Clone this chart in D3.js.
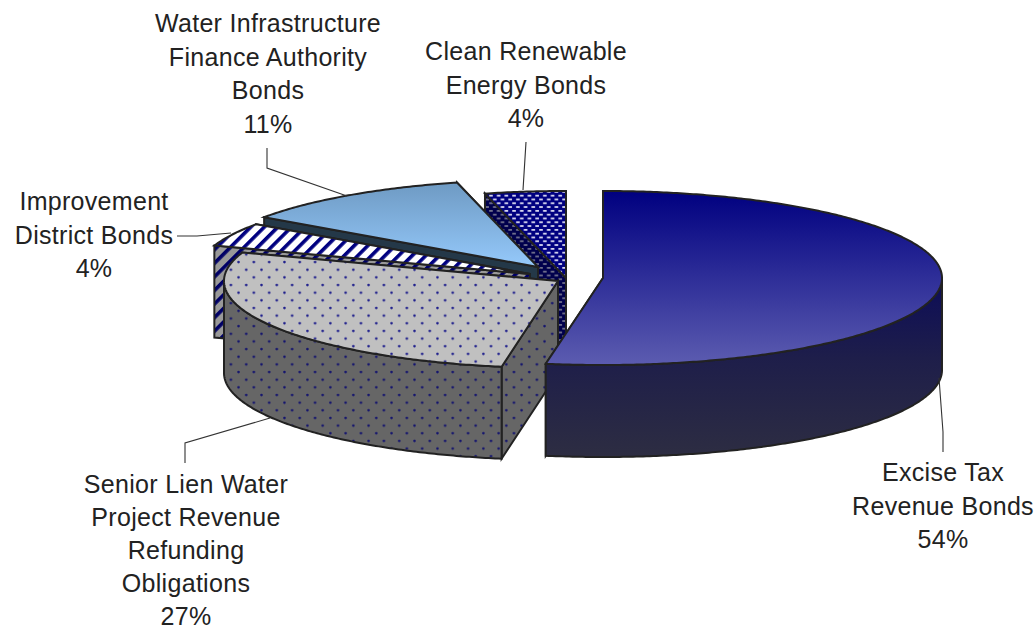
<!DOCTYPE html>
<html>
<head>
<meta charset="utf-8">
<script src="https://cdn.jsdelivr.net/npm/d3@7"></script>
<style>
html,body{margin:0;padding:0;background:#fff;}
svg{display:block;}
text{font-family:"Liberation Sans",Arial,sans-serif;font-size:25px;letter-spacing:0.3px;fill:#222;text-anchor:middle;}
</style>
</head>
<body>
<svg id="chart" width="1035" height="631"></svg>
<script>
// ---- data ----
const categories = [
  "Excise Tax Revenue Bonds",
  "Senior Lien Water Project Revenue Refunding Obligations",
  "Improvement District Bonds",
  "Water Infrastructure Finance Authority Bonds",
  "Clean Renewable Energy Bonds"
];
const drawnShares = [52.7, 27.6, 4.4, 11.4, 3.9];   // slice sweep
const percentLabels = ["54%", "27%", "4%", "11%", "4%"];
const labelLines = [
  ["Excise Tax", "Revenue Bonds"],
  ["Senior Lien Water", "Project Revenue", "Refunding", "Obligations"],
  ["Improvement", "District Bonds"],
  ["Water Infrastructure", "Finance Authority", "Bonds"],
  ["Clean Renewable", "Energy Bonds"]
];

// ---- layout ----
const sliceLayout = [
  {cx:603, cy:278, rx:339, ry:87, top:"url(#exciseTop)", wall:"url(#exciseWall)", face:"#1a1a48"},
  {cx:558, cy:281, rx:334, ry:87, top:"url(#seniorTop)", wall:"url(#seniorWall)", face:"url(#seniorWall)"},
  {cx:530, cy:274, rx:334, ry:87, top:"url(#improveTop)", wall:"url(#improveWall)", face:"url(#improveWall)"},
  {cx:538, cy:267, rx:334, ry:87, top:"url(#waterTop)", wall:"#243848", face:"#243848"},
  {cx:566, cy:278, rx:334, ry:87, top:"url(#cleanTop)", wall:"url(#cleanWall)", face:"url(#cleanWall)"}
];
const depth = 92;
const labelLayout = [
  {x:943, y:481, step:33.7, leader:[[943,452],[943,432],[939,378]]},
  {x:186, y:492.5, step:33.2, leader:[[185,463],[185,443],[270,418]]},
  {x:94,  y:210, step:33.7, leader:[[177,236],[197,236],[231,233]]},
  {x:268, y:32,  step:33.7, leader:[[267,148],[267,168],[347,196]]},
  {x:526, y:60,  step:33.7, leader:[[526,142],[523,190]]}
];

const svg = d3.select("#chart");
const defs = svg.append("defs");

function gradient(id, stops){
  const g = defs.append("linearGradient").attr("id",id)
    .attr("x1",0).attr("y1",0).attr("x2",0).attr("y2",1);
  stops.forEach(([o,c])=>g.append("stop").attr("offset",o).attr("stop-color",c));
}
gradient("exciseTop",[[0,"#000080"],[1,"#5c5cb0"]]);
gradient("exciseWall",[[0,"#0c0c58"],[0.45,"#1e1e4a"],[1,"#2d2d42"]]);
gradient("waterTop",[[0,"#6e9ac3"],[1,"#95c9fb"]]);

function dotPattern(id, bg, dot, dots){
  const p = defs.append("pattern").attr("id",id).attr("patternUnits","userSpaceOnUse")
    .attr("width",15.3).attr("height",15.3);
  p.append("rect").attr("width",15.3).attr("height",15.3).attr("fill",bg);
  dots.forEach(([x,y])=>
    p.append("circle").attr("cx",x).attr("cy",y).attr("r",1.3).attr("fill",dot));
}
dotPattern("seniorTop","#c0c0c0","#1e1e8c",[[1.4,9.6],[9.05,1.95]]);
dotPattern("seniorWall","#666666","#14146e",[[1.4,12.5],[9.05,4.85]]);

function stripePattern(id, bg, stripe){
  const p = defs.append("pattern").attr("id",id).attr("patternUnits","userSpaceOnUse")
    .attr("width",9.6).attr("height",9.6).attr("patternTransform","rotate(45)");
  p.append("rect").attr("width",9.6).attr("height",9.6).attr("fill",bg);
  p.append("rect").attr("width",3.6).attr("height",9.6).attr("fill",stripe);
}
stripePattern("improveTop","#ffffff","#000080");
stripePattern("improveWall","#999999","#000066");

function dashPattern(id, bg, dash){
  const p = defs.append("pattern").attr("id",id).attr("patternUnits","userSpaceOnUse")
    .attr("width",7.7).attr("height",7.6);
  p.append("rect").attr("width",7.7).attr("height",7.6).attr("fill",bg);
  [[0.2,1],[4.05,4.8]].forEach(([x,y])=>
    p.append("rect").attr("x",x).attr("y",y).attr("width",3.6).attr("height",1.7).attr("fill",dash));
}
dashPattern("cleanTop","#000080","#e6e6f6");
dashPattern("cleanWall","#00004c","#77778f");

const pie = d3.pie().sort(null).value(d=>d);
const arcs = pie(drawnShares);
const line = d3.line();

function proj(L, a, z){
  return [L.cx + L.rx*Math.sin(a), L.cy - L.ry*Math.cos(a) + (z||0)];
}
function arcPoints(L, a0, a1, z){
  const n = Math.max(2, Math.ceil(Math.abs(a1-a0)/0.01));
  return d3.range(n+1).map(i=>proj(L, a0+(a1-a0)*i/n, z));
}
const outline = {stroke:"#222", "stroke-width":2, "stroke-linejoin":"miter"};
function drawPoly(g, pts, fill){
  const p = g.append("path").attr("d", line(pts)+"Z").attr("fill", fill);
  Object.entries(outline).forEach(([k,v])=>p.attr(k,v));
  return p;
}

// painter's order: back slices first
const order = [4,3,2,1,0];
order.forEach(i=>{
  const d = arcs[i], L = sliceLayout[i];
  const g = svg.append("g").attr("class","slice").attr("data-name",categories[i]);
  const apex = [L.cx, L.cy];
  const apexLow = [L.cx, L.cy+depth];
  // cut faces: the end face lies behind, the start face toward the viewer
  [d.endAngle, d.startAngle].forEach(a=>{
    const rim = proj(L,a), rimLow = proj(L,a,depth);
    drawPoly(g,[apex,rim,rimLow,apexLow],L.face);
  });
  // outer wall: only its front half shows
  const w0 = Math.max(d.startAngle, Math.PI/2), w1 = Math.min(d.endAngle, 3*Math.PI/2);
  if (w1>w0){
    const up = arcPoints(L,w0,w1,0), low = arcPoints(L,w1,w0,depth);
    drawPoly(g, up.concat(low), L.wall);
  }
  // top surface
  drawPoly(g,[apex].concat(arcPoints(L,d.startAngle,d.endAngle,0)),L.top);
});

// leaders and labels
const leaders = svg.append("g");
labelLayout.forEach(l=>{
  leaders.append("path").attr("d",line(l.leader)).attr("fill","none")
    .attr("stroke","#333").attr("stroke-width",1.1);
});
const labels = svg.append("g");
labelLines.forEach((lines,i)=>{
  const l = labelLayout[i];
  const t = labels.append("text").attr("x",l.x).attr("y",l.y);
  lines.concat([percentLabels[i]]).forEach((s,j)=>{
    t.append("tspan").attr("x",l.x).attr("y",l.y+j*l.step).text(s);
  });
});
</script>
</body>
</html>
